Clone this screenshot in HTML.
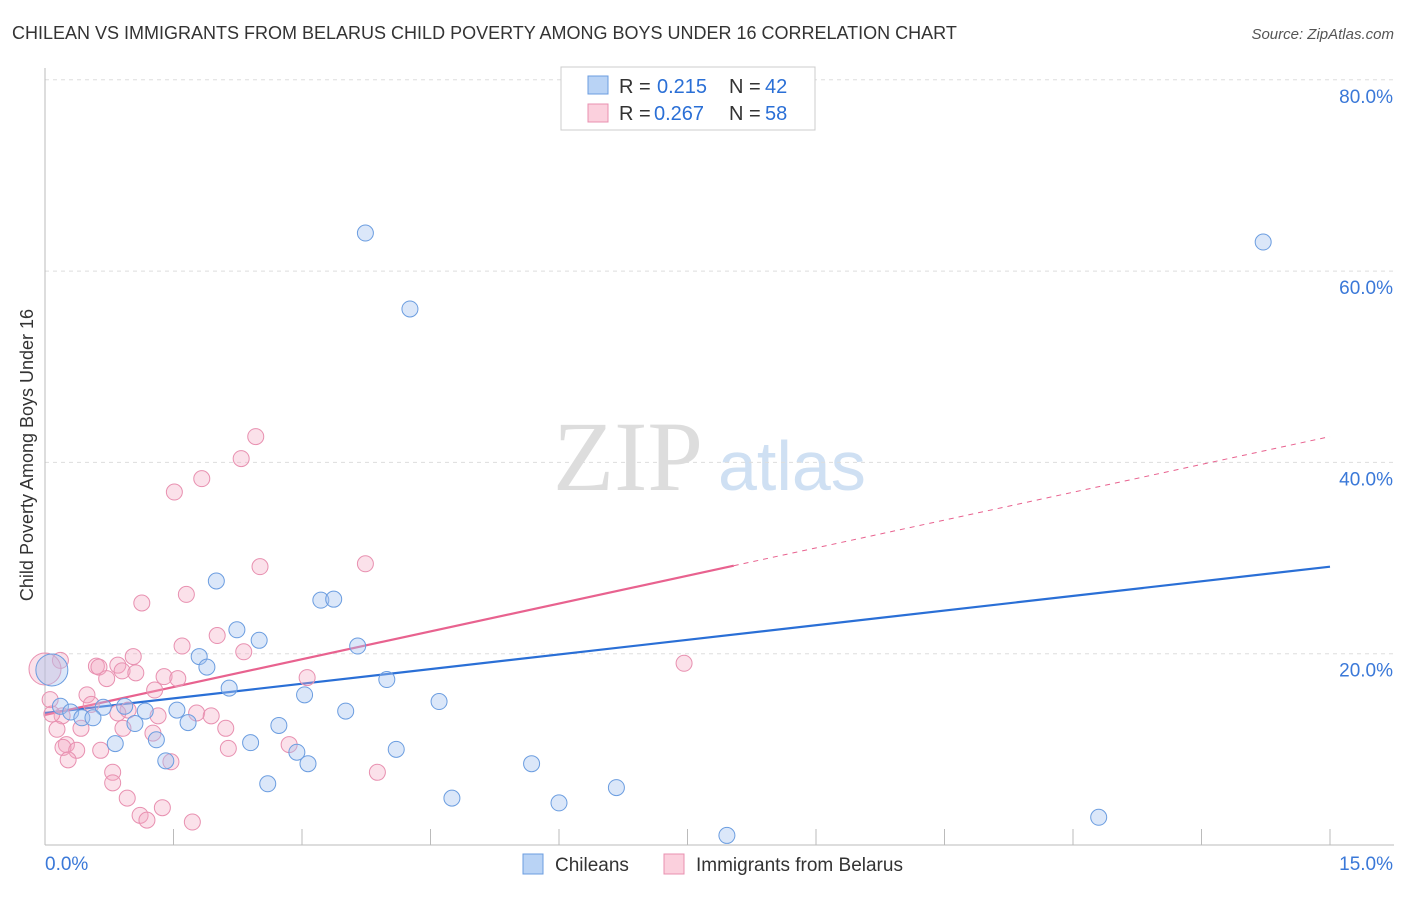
<!DOCTYPE html>
<html><head><meta charset="utf-8">
<style>
body{margin:0;background:#fff;font-family:"Liberation Sans",sans-serif;}
</style></head>
<body>
<svg id="chart" width="1406" height="892" xmlns="http://www.w3.org/2000/svg" font-family="Liberation Sans, sans-serif">
<text x="12" y="39" font-size="18" fill="#333">CHILEAN VS IMMIGRANTS FROM BELARUS CHILD POVERTY AMONG BOYS UNDER 16 CORRELATION CHART</text>
<text x="1394" y="39" font-size="15" fill="#555" font-style="italic" text-anchor="end">Source: ZipAtlas.com</text>
<text x="553" y="490" font-size="100" fill="#ddd" style="font-family:'Liberation Serif',serif">ZIP</text>
<text x="718" y="490" font-size="70" fill="#cfe0f3">atlas</text>
<text transform="translate(33,455) rotate(-90)" font-size="18" fill="#333" text-anchor="middle">Child Poverty Among Boys Under 16</text>
<g id="grid"></g><g id="axes"></g><g id="lines"></g><g id="pts"></g>
<g>
<rect x="561" y="67" width="254" height="63" fill="#fff" stroke="#ccc"/>
<rect x="588" y="76" width="20" height="18" fill="#b9d3f5" stroke="#6b9de0"/>
<rect x="588" y="104" width="20" height="18" fill="#fbd0dd" stroke="#e890b0"/>
<text x="619" y="93" font-size="20" fill="#333">R =</text>
<text x="657" y="93" font-size="20" fill="#2a6fd6">0.215</text>
<text x="729" y="93" font-size="20" fill="#333">N =</text>
<text x="765" y="93" font-size="20" fill="#2a6fd6">42</text>
<text x="619" y="120" font-size="20" fill="#333">R =</text>
<text x="654" y="120" font-size="20" fill="#2a6fd6">0.267</text>
<text x="729" y="120" font-size="20" fill="#333">N =</text>
<text x="765" y="120" font-size="20" fill="#2a6fd6">58</text>
</g>
<g>
<rect x="523" y="854" width="20" height="20" fill="#b9d3f5" stroke="#6b9de0"/>
<text x="555" y="871" font-size="19" fill="#333">Chileans</text>
<rect x="664" y="854" width="20" height="20" fill="#fbd0dd" stroke="#e890b0"/>
<text x="696" y="871" font-size="19" fill="#333">Immigrants from Belarus</text>
</g>
</svg>
<script>
const yTicks=[20,40,60,80];
const yTickLabels=["20.0%","40.0%","60.0%","80.0%"];
const xEndLabels=["0.0%","15.0%"];
const blueX=[3.74,14.22,4.26,2.00,3.22,3.37,2.24,2.50,3.65,1.80,1.89,3.99,2.15,3.03,4.60,3.51,0.93,1.17,1.54,1.67,0.68,0.18,0.30,0.43,0.56,1.05,2.73,1.30,0.82,2.40,2.94,4.10,3.07,1.41,5.68,2.60,6.67,4.75,6.00,12.30,7.96,0.08];
const blueY=[63.98,63.04,56.04,27.6,25.6,25.7,22.5,21.4,20.8,19.7,18.6,17.3,16.4,15.7,15.0,14.0,14.5,14.0,14.1,12.8,14.4,14.5,13.9,13.3,13.3,12.7,12.5,11.0,10.6,10.7,9.7,10.0,8.5,8.8,8.5,6.4,6.0,4.9,4.4,2.9,1.0,18.3];
const pinkX=[2.46,2.29,1.83,1.51,3.74,2.51,1.13,1.65,1.60,2.01,2.32,1.03,0.18,0.60,0.85,0.63,0.90,1.06,1.39,1.55,0.72,3.06,1.28,0.49,0.06,0.54,0.97,0.85,0.20,0.08,1.32,1.77,1.94,2.11,0.91,0.42,0.14,1.26,0.25,0.21,2.85,0.65,0.37,2.14,1.47,0.27,0.79,3.88,0.79,0.96,1.37,1.11,1.19,1.72,7.46,0.0];
const pinkY=[42.7,40.4,38.3,36.9,29.4,29.1,25.3,26.2,20.8,21.9,20.2,19.7,19.3,18.7,18.8,18.6,18.2,18.0,17.6,17.4,17.4,17.5,16.2,15.7,15.2,14.7,14.1,13.8,13.5,13.7,13.5,13.8,13.5,12.2,12.2,12.2,12.1,11.7,10.5,10.2,10.5,9.9,9.9,10.1,8.7,8.9,7.6,7.6,6.5,4.9,3.9,3.1,2.6,2.4,19.0,18.4];
const blueLine=[13.8,29.1];
const pinkLine=[13.6,42.7];
const pinkSolidEnd=8.04;
const NS="http://www.w3.org/2000/svg";
const X=v=>45+v/15*1285, Y=v=>845-v/20*191.3;
function mk(t,a,p){const e=document.createElementNS(NS,t);for(const k in a)e.setAttribute(k,a[k]);p.appendChild(e);return e;}
const grid=document.getElementById('grid'),axes=document.getElementById('axes');
yTicks.forEach((t,i)=>{
 const l=mk('line',{x1:45,x2:1394,y1:Y(t),y2:Y(t),stroke:'#ddd','stroke-dasharray':'4,4'},grid);
 
 
 const tx=mk('text',{x:1393,y:Y(t)+23,'font-size':19,fill:'#3a78d8','text-anchor':'end'},axes);
 tx.textContent=yTickLabels[i];
 
 
});
mk('line',{x1:45,x2:45,y1:68,y2:845,stroke:'#bbb'},axes);
mk('line',{x1:45,x2:1394,y1:845,y2:845,stroke:'#bbb'},axes);
for(let i=0;i<=10;i++){const t=mk('line',{x1:X(i*1.5),x2:X(i*1.5),y1:829,y2:845,stroke:'#bbb'},axes);
 
 }
const a=mk('text',{x:45,y:870,'font-size':19,fill:'#3a78d8'},axes);a.textContent=xEndLabels[0];


const b=mk('text',{x:1393,y:870,'font-size':19,fill:'#3a78d8','text-anchor':'end'},axes);b.textContent=xEndLabels[1];


const pts=document.getElementById('pts'),lines=document.getElementById('lines');
function dots(xs,ys,fill,stroke,name){xs.forEach((x,i)=>{const big=i===xs.length-1;
 const c=mk('circle',{cx:X(x),cy:Y(ys[i]),r:big?16:8,fill:fill,stroke:stroke,'stroke-width':1},pts);
 
 });}
dots(pinkX,pinkY,'rgba(244,170,196,0.35)','#e890b0','point-belarus');
dots(blueX,blueY,'rgba(164,196,240,0.4)','#6b9de0','point-chilean');
const pl=v=>pinkLine[0]+(pinkLine[1]-pinkLine[0])*v/15;
const l1=mk('line',{x1:X(0),y1:Y(blueLine[0]),x2:X(15),y2:Y(blueLine[1]),stroke:'#2a6fd6','stroke-width':2.2},lines);


const l2=mk('line',{x1:X(0),y1:Y(pl(0)),x2:X(pinkSolidEnd),y2:Y(pl(pinkSolidEnd)),stroke:'#e8628f','stroke-width':2.2},lines);


const l3=mk('line',{x1:X(pinkSolidEnd),y1:Y(pl(pinkSolidEnd)),x2:X(15),y2:Y(pl(15)),stroke:'#e8628f','stroke-width':1,'stroke-dasharray':'5,5'},lines);


</script>
</body></html>
